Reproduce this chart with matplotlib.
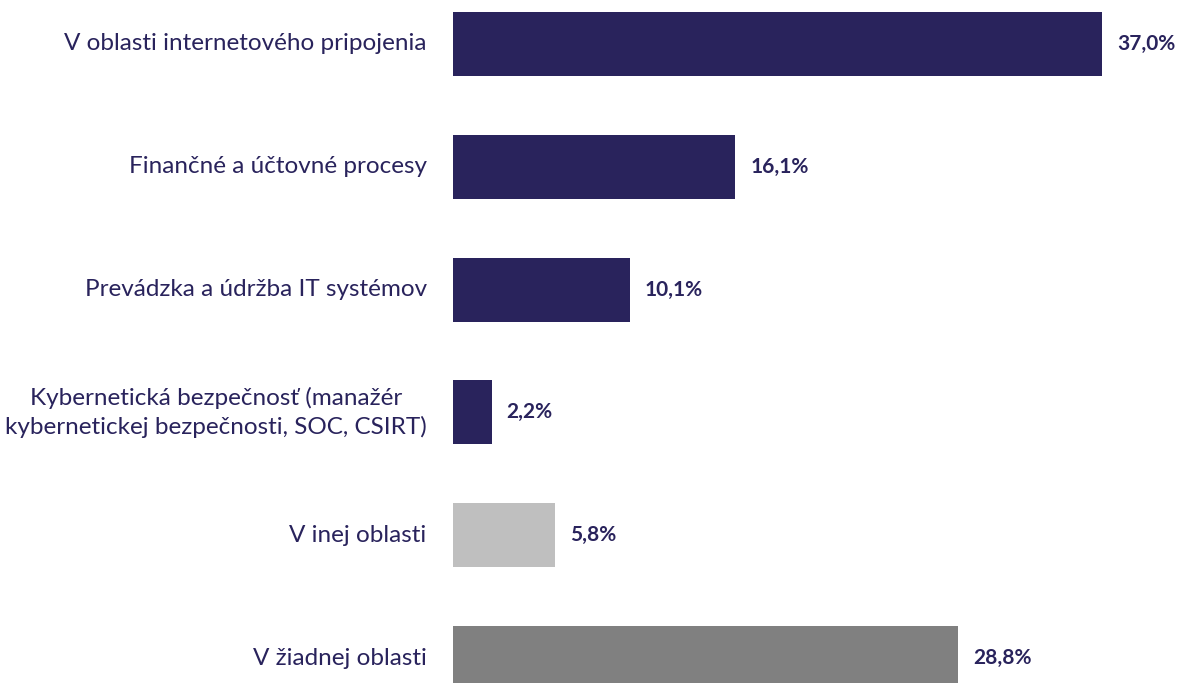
import matplotlib.pyplot as plt
import numpy as np

plt.rcParams['font.family'] = ['Lato', 'DejaVu Sans']

categories = ['V oblasti internetového pripojenia',
              'Finančné a účtovné procesy',
              'Prevádzka a údržba IT systémov',
              'Kybernetická bezpečnosť (manažér\nkybernetickej bezpečnosti, SOC, CSIRT)',
              'V inej oblasti',
              'V žiadnej oblasti']
values = [37.0, 16.1, 10.1, 2.2, 5.8, 28.8]
labels = ['37,0%', '16,1%', '10,1%', '2,2%', '5,8%', '28,8%']

navy = '#29235C'
colors = [navy, navy, navy, navy, '#BFBFBF', '#808080']

fig = plt.figure(figsize=(11.8, 6.83), dpi=100)
ax = fig.add_axes([453 / 1180, 0, 1 - 453 / 1180, 1])

y = np.arange(len(values))
ax.barh(y, values, height=0.52, color=colors)
ax.set_ylim(5.203, -0.358)
ax.set_xlim(0, 41.45)

for yi, v, lab in zip(y, values, labels):
    ax.text(v + 0.85, yi, lab, va='center', ha='left', fontsize=15,
            fontweight='bold', color=navy)

for yi, cat in zip(y, categories):
    ax.text(-1.5, yi, cat, va='center', ha='right', multialignment='center',
            fontsize=17.5, color=navy, linespacing=1.35)

ax.axis('off')
fig.savefig('out.png', dpi=100)
